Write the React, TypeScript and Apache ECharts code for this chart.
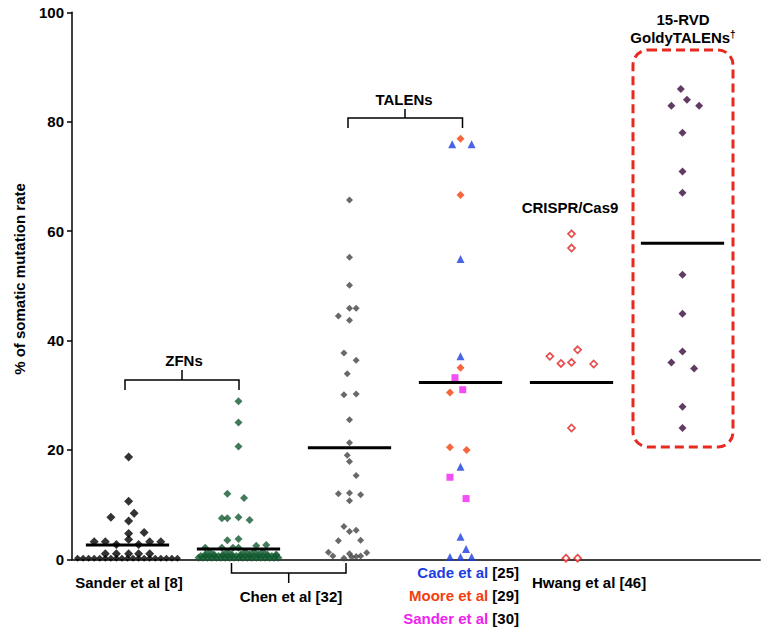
import React, { useEffect, useRef } from "react";
import * as echarts from "echarts";

// ---------- data ----------
const yMin = 0;
const yMax = 100;
const yInterval = 20;

const groupNames = ["Sander et al [8]", "Chen ZFNs", "Chen TALENs", "TALENs", "Hwang CRISPR", "GoldyTALENs"];
const groupMeans = [2.6, 1.9, 20.4, 32.3, 32.3, 57.8];

// group 0: Sander et al [8] (ZFNs)
const sander8ZeroOffsets = [-0.45, -0.4, -0.35, -0.3, -0.25, -0.2, -0.15, -0.1, -0.05, 0, 0.05, 0.1, 0.15, 0.2, 0.25, 0.3, 0.35, 0.4, 0.45];
const sander8ZeroValues = [0.2, 0.2, 0.2, 0.2, 0.2, 0.2, 0.2, 0.2, 0.2, 0.2, 0.2, 0.2, 0.2, 0.2, 0.2, 0.2, 0.2, 0.2, 0.2];
const sander8Offsets = [0.01, 0.01, -0.15, 0.06, 0.01, 0.01, 0.15, 0.01, -0.3, -0.2, 0.2, 0.3, -0.1, 0.1, -0.2, -0.1, 0.01, 0.1, 0.2];
const sander8Values = [18.7, 10.6, 7.7, 8.4, 7.0, 4.7, 4.9, 3.6, 3.2, 3.2, 3.2, 3.2, 2.7, 2.7, 1.0, 1.0, 1.0, 1.0, 1.0];

// group 1: Chen et al [32] ZFNs
const chenZfnOffsets = [
  0, 0, 0, -0.1, 0.05, -0.15, -0.1, 0, 0.1, -0.1, 0,
  -0.3, -0.15, -0.05, 0, 0.16, 0.25,
  -0.36, -0.32, -0.28, -0.24, -0.2, -0.16, -0.12, -0.08, -0.04, 0, 0.04, 0.08, 0.12, 0.16, 0.2, 0.24, 0.28, 0.32, 0.36,
  -0.34, -0.3, -0.26, -0.22, -0.18, -0.14, -0.1, -0.06, -0.02, 0.02, 0.06, 0.1, 0.14, 0.18, 0.22, 0.26, 0.3, 0.34,
  -0.3, -0.22, -0.14, -0.06, 0.02, 0.1, 0.18, 0.26, 0.34,
  -0.26, -0.1, 0.06, 0.14, 0.22,
];
const chenZfnValues = [
  28.9, 25.0, 20.6, 12.0, 11.2, 7.5, 7.5, 7.7, 7.2, 3.5, 3.7,
  2.1, 2.1, 2.1, 2.1, 2.5, 2.6,
  0.3, 0.3, 0.3, 0.3, 0.3, 0.3, 0.3, 0.3, 0.3, 0.3, 0.3, 0.3, 0.3, 0.3, 0.3, 0.3, 0.3, 0.3, 0.3,
  0.6, 0.6, 0.6, 0.6, 0.6, 0.6, 0.6, 0.6, 0.6, 0.6, 0.6, 0.6, 0.6, 0.6, 0.6, 0.6, 0.6, 0.6,
  0.9, 0.9, 0.9, 0.9, 0.9, 0.9, 0.9, 0.9, 0.9,
  1.4, 1.4, 1.4, 1.4, 1.4,
];

// group 2: Chen et al [32] TALENs
const chenTalenOffsets = [0, 0, 0, 0, 0.06, -0.1, 0, -0.05, 0.06, -0.02, -0.05, 0.06, 0, 0, -0.02, 0, 0.06, -0.1, 0, 0.1, 0, -0.05, 0, 0.06, -0.1, 0.1, -0.19, 0.155, -0.15, 0, -0.05, 0.02, 0.06, 0.1];
const chenTalenValues = [65.7, 55.2, 50.1, 45.9, 45.9, 44.5, 43.7, 37.7, 36.4, 33.9, 30.1, 30.2, 25.5, 21.3, 19.0, 17.9, 15.3, 12.0, 12.1, 11.8, 10.7, 6.0, 5.1, 5.3, 3.4, 3.5, 1.3, 1.2, 0.6, 1.0, 0.2, 0.4, 0.5, 0.6];

// group 3: TALENs from three studies
const mooreOffsets = [0, 0, 0, -0.095, -0.095, 0.055];
const mooreValues = [76.9, 66.6, 35.0, 30.5, 20.5, 20.0];
const cadeOffsets = [-0.075, 0.1, 0, 0, 0, 0, 0.05, -0.095, 0, 0.1];
const cadeValues = [75.9, 75.9, 54.9, 37.1, 16.9, 4.1, 1.9, 0.4, 0.4, 0.4];
const sander30Offsets = [-0.05, 0.02, -0.095, 0.05];
const sander30Values = [33.2, 31.0, 15.0, 11.1];

// group 4: Hwang et al [46] CRISPR/Cas9
const hwangOffsets = [0, 0, 0.055, -0.195, -0.095, 0, 0.2, 0, -0.05, 0.055];
const hwangValues = [59.5, 56.9, 38.3, 37.1, 35.8, 36.0, 35.7, 24.0, 0.2, 0.2];

// group 5: 15-RVD GoldyTALENs
const goldyOffsets = [-0.015, 0.04, -0.1, 0.15, 0, 0, 0, 0, 0, 0, -0.1, 0.105, 0, 0];
const goldyValues = [86.0, 84.0, 82.9, 82.9, 78.0, 70.9, 67.0, 52.0, 44.9, 38.0, 36.0, 34.9, 27.9, 24.0];

// ---------- helpers ----------
const FONT = "Liberation Sans, Arial, Helvetica, sans-serif";
const LABEL_FONT = `bold 15px ${FONT}`;

function points(group: number, offsets: number[], values: number[]) {
  return values.map((v, k) => [group + 0.5 + offsets[k], v]);
}

function scatter(name: string, data: number[][], symbol: string, size: number, color: string) {
  return {
    name,
    type: "scatter",
    data,
    symbol,
    symbolSize: size,
    itemStyle: { color },
    z: 3,
    silent: true,
  };
}

const meanHalfWidth = 0.375;

function buildOption() {
  const series: any[] = [
    scatter("sander8zero", points(0, sander8ZeroOffsets, sander8ZeroValues), "diamond", 7, "#000000"),
    scatter("sander8", points(0, sander8Offsets, sander8Values), "diamond", 9, "#000000"),
    scatter("chenZfn", points(1, chenZfnOffsets, chenZfnValues), "diamond", 8, "#125a2f"),
    scatter("chenTalen", points(2, chenTalenOffsets, chenTalenValues), "diamond", 7, "#444444"),
    scatter("moore", points(3, mooreOffsets, mooreValues), "diamond", 8, "#f2400f"),
    scatter("cade", points(3, cadeOffsets, cadeValues), "triangle", 8, "#1b3fe0"),
    scatter("sander30", points(3, sander30Offsets, sander30Values), "rect", 7, "#f022f0"),
    {
      name: "hwang",
      type: "scatter",
      data: points(4, hwangOffsets, hwangValues),
      symbol: "diamond",
      symbolSize: 7,
      itemStyle: { color: "#ffffff", borderColor: "#e0211f", borderWidth: 1.7 },
      z: 3,
      silent: true,
    },
    scatter("goldy", points(5, goldyOffsets, goldyValues), "diamond", 8, "#3a0a3d"),
  ];

  groupMeans.forEach((m, i) => {
    series.push({
      name: "mean-" + groupNames[i],
      type: "line",
      data: [
        [i + 0.5 - meanHalfWidth, m],
        [i + 0.5 + meanHalfWidth, m],
      ],
      symbol: "none",
      lineStyle: { color: "#000000", width: 3 },
      z: 4,
      silent: true,
    });
  });

  const bracket = (pts: number[][]) => ({
    type: "polyline",
    shape: { points: pts },
    style: { stroke: "#000000", lineWidth: 1.5, fill: null },
    z: 10,
  });
  const txt = (text: string, x: number, y: number, align: string, extra: any = {}) => ({
    type: "text",
    x,
    y,
    style: {
      text,
      fill: "#000000",
      font: LABEL_FONT,
      align,
      verticalAlign: "middle",
      ...extra,
    },
    z: 10,
  });
  const richStyle = {
    rich: {
      b: { fill: "#1b3fe0", font: LABEL_FONT },
      r: { fill: "#f2400f", font: LABEL_FONT },
      m: { fill: "#f022f0", font: LABEL_FONT },
      k: { fill: "#000000", font: LABEL_FONT },
    },
  };

  const graphic: any[] = [
    // y-axis title
    {
      type: "text",
      x: 19,
      y: 279,
      rotation: Math.PI / 2,
      style: {
        text: "% of somatic mutation rate",
        fill: "#000000",
        font: `bold 15px ${FONT}`,
        align: "center",
        verticalAlign: "middle",
      },
      z: 10,
    },
    // ZFNs bracket
    bracket([[125, 390], [125, 380], [239, 380], [239, 390]]),
    bracket([[182, 380], [182, 370]]),
    txt("ZFNs", 184, 360, "center"),
    // TALENs bracket
    bracket([[348, 128], [348, 118], [462.5, 118], [462.5, 128]]),
    bracket([[405, 118], [405, 109]]),
    txt("TALENs", 404, 99, "center"),
    // Chen bracket at bottom
    bracket([[231.5, 563], [231.5, 573], [346, 573], [346, 563]]),
    bracket([[288.7, 573], [288.7, 583]]),
    txt("Chen et al [32]", 291, 596, "center"),
    txt("Sander et al [8]", 129, 582, "center"),
    txt("Hwang et al [46]", 532, 582, "left"),
    txt("{b|Cade et al} {k|[25]}", 519, 572, "right", richStyle),
    txt("{r|Moore et al} {k|[29]}", 519, 595, "right", richStyle),
    txt("{m|Sander et al} {k|[30]}", 519, 618, "right", richStyle),
    txt("CRISPR/Cas9", 570, 207, "center"),
    txt("15-RVD", 683, 19, "center"),
    txt("GoldyTALENs{s|†}", 683, 37, "center", {
      rich: { s: { fill: "#000000", font: `bold 10px ${FONT}`, verticalAlign: "top", padding: [0, 0, 6, 0] } },
    }),
    // dashed highlight box
    {
      type: "rect",
      shape: { x: 633, y: 50, width: 100, height: 397, r: 15 },
      style: { fill: null, stroke: "#e8291f", lineWidth: 3, lineDash: [9, 5] },
      z: 10,
    },
  ];

  return {
    animation: false,
    backgroundColor: "#ffffff",
    grid: { left: 72, right: 7.8, top: 12.3, bottom: 72.7, containLabel: false },
    xAxis: {
      type: "value",
      min: 0,
      max: 6.2,
      axisLine: { show: true, onZero: false, lineStyle: { color: "#000000", width: 1.5 } },
      axisTick: { show: false },
      axisLabel: { show: false },
      splitLine: { show: false },
    },
    yAxis: {
      type: "value",
      min: yMin,
      max: yMax,
      interval: yInterval,
      axisLine: { show: true, lineStyle: { color: "#000000", width: 1.5 } },
      axisTick: { show: true, length: 5, inside: false, lineStyle: { color: "#000000", width: 1.5 } },
      axisLabel: { color: "#000000", fontWeight: "bold", fontSize: 15, fontFamily: FONT, margin: 8 },
      splitLine: { show: false },
    },
    series,
    graphic,
  };
}

export default function App() {
  const ref = useRef<HTMLDivElement>(null);
  useEffect(() => {
    if (!ref.current) return;
    const chart = echarts.init(ref.current, null, { renderer: "svg" });
    chart.setOption(buildOption() as any);
    return () => chart.dispose();
  }, []);
  return (
    <div
      ref={ref}
      style={{ position: "fixed", left: 0, top: 0, width: 768, height: 632, background: "#ffffff" }}
    />
  );
}
